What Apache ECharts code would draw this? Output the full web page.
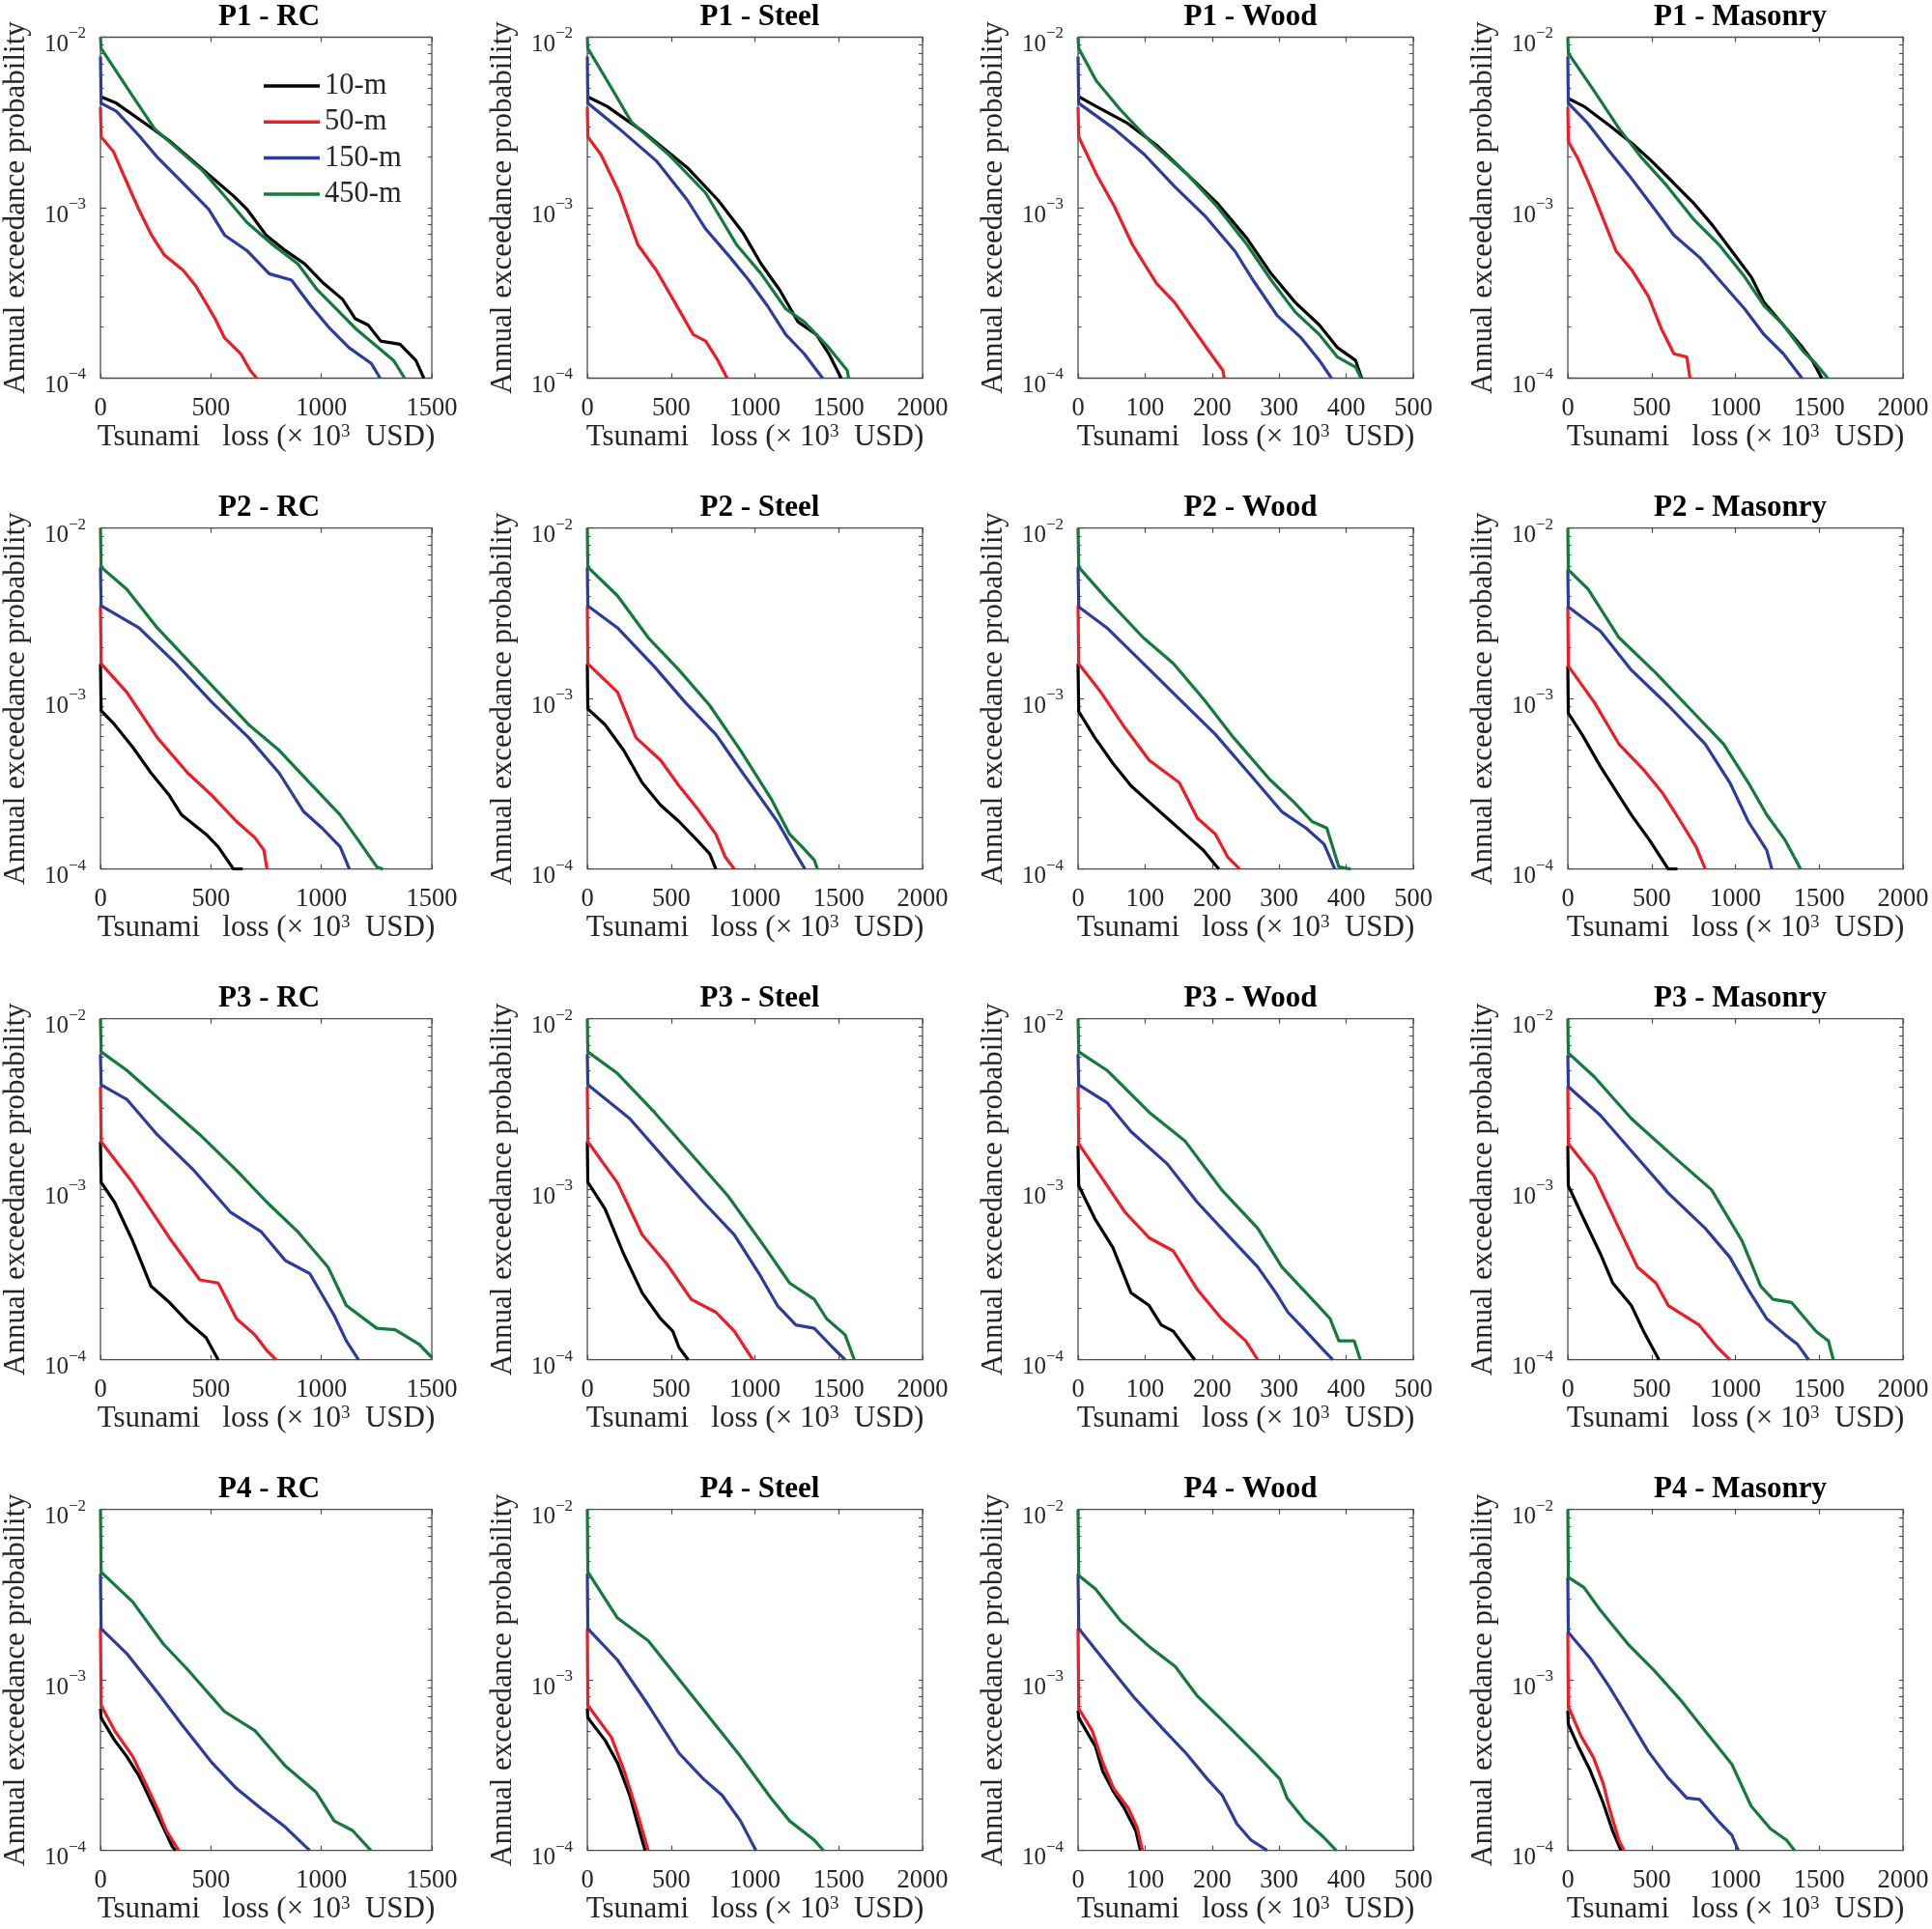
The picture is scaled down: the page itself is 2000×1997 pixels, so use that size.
<!DOCTYPE html>
<html><head><meta charset="utf-8">
<script src="https://cdn.jsdelivr.net/npm/echarts@6/dist/echarts.min.js"></script>
<style>html,body{margin:0;padding:0;background:#fff}#c{width:2000px;height:1997px}</style>
</head><body><div id="c"></div>
<script>
const seriesNames = ['10-m', '50-m', '150-m', '450-m'];
const seriesColors = ['#000000', '#ee1c24', '#2b3c9c', '#137a3b'];
const rowLabels = ['P1', 'P2', 'P3', 'P4'];
const colLabels = ['RC', 'Steel', 'Wood', 'Masonry'];
const xMaxByCol = [1500, 2000, 500, 2000];
const xStepByCol = [500, 500, 100, 500];
const yMin = 1e-4, yMax = 1e-2;

// ---- P1 ----
const P1_RC_10 = [[0,4.48e-3],[72,4.1e-3],[216,3.03e-3],[317,2.44e-3],[462,1.68e-3],[606,1.16e-3],[663,9.8e-4],[750,6.9e-4],[837,5.6e-4],[923,4.7e-4],[1010,3.6e-4],[1096,2.9e-4],[1154,2.23e-4],[1212,2.05e-4],[1269,1.65e-4],[1356,1.58e-4],[1428,1.27e-4],[1464,1e-4]];
const P1_RC_50 = [[0,3.9e-3],[3,2.6e-3],[58,2.14e-3],[115,1.45e-3],[173,9.8e-4],[231,6.9e-4],[288,5.3e-4],[375,4.28e-4],[433,3.45e-4],[476,2.78e-4],[519,2.23e-4],[562,1.72e-4],[635,1.39e-4],[678,1.11e-4],[707,1e-4]];
const P1_RC_150 = [[0,7.7e-3],[3,4.1e-3],[72,3.68e-3],[173,2.66e-3],[260,1.96e-3],[375,1.39e-3],[490,9.8e-4],[562,6.9e-4],[663,5.6e-4],[764,4.1e-4],[865,3.76e-4],[952,2.66e-4],[1038,1.96e-4],[1125,1.51e-4],[1226,1.22e-4],[1266,1e-4]];
const P1_RC_450 = [[0,1e-2],[3,8.6e-3],[144,4.55e-3],[245,2.9e-3],[346,2.23e-3],[462,1.65e-3],[577,1.11e-3],[663,8.2e-4],[779,6.07e-4],[894,4.68e-4],[981,3.3e-4],[1067,2.55e-4],[1154,1.96e-4],[1240,1.58e-4],[1327,1.27e-4],[1377,1e-4]];
const P1_ST_10 = [[0,4.48e-3],[118,3.93e-3],[338,2.77e-3],[596,1.72e-3],[779,1.11e-3],[926,7.2e-4],[1037,4.68e-4],[1147,3.3e-4],[1257,2.14e-4],[1367,1.8e-4],[1441,1.39e-4],[1515,1e-4]];
const P1_ST_50 = [[0,3.9e-3],[3,2.6e-3],[81,2.05e-3],[191,1.22e-3],[301,6.07e-4],[412,4.28e-4],[522,2.78e-4],[632,1.8e-4],[706,1.65e-4],[779,1.27e-4],[834,1e-4]];
const P1_ST_150 = [[0,7.7e-3],[3,4.1e-3],[191,2.9e-3],[412,1.88e-3],[596,1.11e-3],[706,7.5e-4],[853,5.1e-4],[963,3.76e-4],[1074,2.66e-4],[1184,1.8e-4],[1294,1.39e-4],[1404,1e-4]];
const P1_ST_450 = [[0,1e-2],[3,8.6e-3],[118,5.56e-3],[265,3.16e-3],[485,2.05e-3],[706,1.22e-3],[890,6.07e-4],[1037,4.1e-4],[1184,2.55e-4],[1294,2.14e-4],[1441,1.51e-4],[1551,1.11e-4],[1559,1e-4]];
const P1_WD_10 = [[0,4.5e-3],[27,3.93e-3],[72,3.16e-3],[117,2.33e-3],[162,1.58e-3],[207,1.07e-3],[252,6.6e-4],[288,4.1e-4],[324,2.78e-4],[360,2.05e-4],[387,1.51e-4],[414,1.27e-4],[423,1e-4]];
const P1_WD_50 = [[0,3.9e-3],[1,2.6e-3],[27,1.58e-3],[54,1.02e-3],[81,6.07e-4],[117,3.6e-4],[144,2.78e-4],[171,1.96e-4],[198,1.39e-4],[216,1.11e-4],[218,1e-4]];
const P1_WD_150 = [[0,7.7e-3],[1,4.1e-3],[54,2.9e-3],[99,2.05e-3],[144,1.33e-3],[189,8.97e-4],[234,5.56e-4],[261,3.76e-4],[297,2.33e-4],[333,1.72e-4],[360,1.27e-4],[378,1e-4]];
const P1_WD_450 = [[0,1e-2],[1,8.6e-3],[27,5.56e-3],[63,3.76e-3],[108,2.44e-3],[162,1.58e-3],[207,1.02e-3],[252,6.07e-4],[288,3.76e-4],[324,2.44e-4],[360,1.8e-4],[387,1.33e-4],[414,1.16e-4],[422,1e-4]];
const P1_MA_10 = [[0,4.38e-3],[96,3.93e-3],[249,3.03e-3],[384,2.38e-3],[499,1.88e-3],[633,1.39e-3],[748,1.07e-3],[864,7.87e-4],[979,5.56e-4],[1094,3.93e-4],[1171,2.78e-4],[1286,2.05e-4],[1401,1.51e-4],[1458,1.27e-4],[1516,1e-4]];
const P1_MA_50 = [[0,3.9e-3],[3,2.44e-3],[58,1.96e-3],[134,1.33e-3],[211,8.6e-4],[288,5.56e-4],[384,4.28e-4],[480,3.03e-4],[557,1.96e-4],[633,1.39e-4],[710,1.33e-4],[729,1e-4]];
const P1_MA_150 = [[0,7.7e-3],[3,4.1e-3],[115,3.16e-3],[249,2.14e-3],[365,1.55e-3],[518,9.8e-4],[633,6.9e-4],[787,5.1e-4],[921,3.6e-4],[1055,2.55e-4],[1171,1.8e-4],[1286,1.39e-4],[1397,1e-4]];
const P1_MA_450 = [[0,1e-2],[3,8.05e-3],[154,4.89e-3],[307,2.9e-3],[441,1.96e-3],[595,1.33e-3],[748,8.6e-4],[902,6.07e-4],[1055,3.93e-4],[1171,2.66e-4],[1286,2.05e-4],[1401,1.45e-4],[1478,1.22e-4],[1551,1e-4]];
// ---- P2 ----
const P2_RC_10 = [[0,1.6e-3],[3,8.5e-4],[64,7.03e-4],[146,5.19e-4],[229,3.66e-4],[312,2.7e-4],[367,2.08e-4],[478,1.6e-4],[533,1.35e-4],[602,1e-4],[644,1e-4]];
const P2_RC_50 = [[0,3.5e-3],[3,1.6e-3],[119,1.09e-3],[257,5.9e-4],[395,3.66e-4],[505,2.7e-4],[616,1.9e-4],[699,1.53e-4],[740,1.29e-4],[754,1e-4]];
const P2_RC_150 = [[0,5.9e-3],[3,3.5e-3],[174,2.6e-3],[340,1.61e-3],[505,9.5e-4],[671,5.9e-4],[809,3.66e-4],[920,2.17e-4],[1003,1.74e-4],[1085,1.35e-4],[1127,1e-4]];
const P2_RC_450 = [[0,1e-2],[3,5.9e-3],[119,4.38e-3],[257,2.6e-3],[395,1.68e-3],[533,1.09e-3],[671,7.03e-4],[809,4.97e-4],[947,3.21e-4],[1085,2.08e-4],[1168,1.47e-4],[1251,1.03e-4],[1279,1e-4]];
const P2_ST_10 = [[0,1.6e-3],[3,8.7e-4],[106,7.03e-4],[217,4.97e-4],[327,3.21e-4],[437,2.37e-4],[547,1.9e-4],[657,1.47e-4],[730,1.23e-4],[767,1e-4]];
const P2_ST_50 = [[0,3.5e-3],[3,1.6e-3],[180,1.09e-3],[290,5.9e-4],[437,4.35e-4],[547,3.08e-4],[657,2.26e-4],[767,1.6e-4],[822,1.18e-4],[877,1e-4]];
const P2_ST_150 = [[0,5.9e-3],[3,3.5e-3],[180,2.6e-3],[400,1.54e-3],[584,9.5e-4],[767,6.16e-4],[914,3.82e-4],[1024,2.7e-4],[1134,1.9e-4],[1244,1.23e-4],[1299,1e-4]];
const P2_ST_450 = [[0,1e-2],[3,5.9e-3],[180,4.01e-3],[363,2.28e-3],[547,1.47e-3],[730,9.12e-4],[914,4.97e-4],[1097,2.58e-4],[1207,1.6e-4],[1281,1.35e-4],[1354,1.13e-4],[1373,1e-4]];
const P2_WD_10 = [[0,1.6e-3],[1,8.4e-4],[25,5.9e-4],[52,4.17e-4],[79,3.08e-4],[106,2.47e-4],[133,1.99e-4],[160,1.6e-4],[187,1.29e-4],[210,1e-4]];
const P2_WD_50 = [[0,3.5e-3],[1,1.6e-3],[34,1.09e-3],[70,6.73e-4],[106,4.35e-4],[151,3.21e-4],[178,1.99e-4],[205,1.6e-4],[223,1.18e-4],[241,1e-4]];
const P2_WD_150 = [[0,5.9e-3],[1,3.45e-3],[43,2.6e-3],[97,1.61e-3],[151,9.95e-4],[205,6.16e-4],[259,3.5e-4],[304,2.17e-4],[340,1.74e-4],[367,1.4e-4],[383,1e-4]];
const P2_WD_450 = [[0,1e-2],[1,5.9e-3],[43,3.84e-3],[97,2.28e-3],[142,1.61e-3],[187,9.95e-4],[232,5.9e-4],[286,3.35e-4],[322,2.47e-4],[349,1.9e-4],[371,1.74e-4],[389,1.03e-4],[407,1e-4]];
const P2_MA_10 = [[0,1.55e-3],[3,8.2e-4],[85,6.16e-4],[195,3.99e-4],[305,2.7e-4],[379,2.08e-4],[489,1.47e-4],[599,1e-4],[654,1e-4]];
const P2_MA_50 = [[0,3.45e-3],[3,1.55e-3],[158,9.5e-4],[305,5.41e-4],[452,3.82e-4],[562,2.82e-4],[673,1.9e-4],[765,1.35e-4],[820,1e-4]];
const P2_MA_150 = [[0,5.7e-3],[3,3.45e-3],[195,2.48e-3],[379,1.47e-3],[599,9.12e-4],[820,5.41e-4],[967,3.21e-4],[1077,1.9e-4],[1187,1.29e-4],[1217,1e-4]];
const P2_MA_450 = [[0,1e-2],[3,5.7e-3],[121,4.38e-3],[305,2.28e-3],[526,1.41e-3],[709,9.12e-4],[930,5.41e-4],[1077,3.21e-4],[1187,2.08e-4],[1298,1.47e-4],[1389,1e-4]];
// ---- P3 ----
const P3_RC_10 = [[0,1.9e-3],[3,1.1e-3],[64,8.38e-4],[146,4.97e-4],[229,2.7e-4],[312,2.17e-4],[395,1.67e-4],[478,1.35e-4],[533,1e-4]];
const P3_RC_50 = [[0,4e-3],[3,1.9e-3],[146,1.09e-3],[312,5.19e-4],[450,2.94e-4],[533,2.82e-4],[616,1.74e-4],[699,1.4e-4],[754,1.13e-4],[795,1e-4]];
const P3_RC_150 = [[0,6.2e-3],[3,4.1e-3],[119,3.37e-3],[257,2.09e-3],[423,1.29e-3],[588,7.35e-4],[726,5.66e-4],[837,3.82e-4],[947,3.21e-4],[1058,1.82e-4],[1113,1.29e-4],[1168,1e-4]];
const P3_RC_450 = [[0,1e-2],[3,6.4e-3],[119,4.99e-3],[284,3.23e-3],[450,2.09e-3],[616,1.29e-3],[754,8.38e-4],[892,5.66e-4],[1030,3.5e-4],[1113,2.08e-4],[1251,1.53e-4],[1334,1.5e-4],[1444,1.23e-4],[1500,1.03e-4]];
const P3_ST_10 = [[0,1.9e-3],[3,1.1e-3],[106,7.67e-4],[217,4.17e-4],[327,2.47e-4],[437,1.74e-4],[510,1.47e-4],[547,1.18e-4],[602,1e-4]];
const P3_ST_50 = [[0,4e-3],[3,1.9e-3],[180,1.09e-3],[327,5.41e-4],[473,3.66e-4],[620,2.26e-4],[767,1.9e-4],[877,1.47e-4],[987,1e-4]];
const P3_ST_150 = [[0,6.2e-3],[3,4.1e-3],[253,2.6e-3],[473,1.47e-3],[694,8.38e-4],[877,5.41e-4],[1024,3.21e-4],[1134,2.08e-4],[1244,1.6e-4],[1354,1.53e-4],[1464,1.18e-4],[1538,1e-4]];
const P3_ST_450 = [[0,1e-2],[3,6.4e-3],[180,4.78e-3],[400,2.83e-3],[620,1.61e-3],[840,9.12e-4],[1061,4.55e-4],[1207,2.82e-4],[1354,2.26e-4],[1428,1.74e-4],[1538,1.4e-4],[1593,1e-4]];
const P3_WD_10 = [[0,1.8e-3],[1,1.05e-3],[25,6.73e-4],[52,4.55e-4],[79,2.47e-4],[106,2.08e-4],[124,1.6e-4],[142,1.47e-4],[160,1.18e-4],[174,1e-4]];
const P3_WD_50 = [[0,4e-3],[1,1.85e-3],[34,1.19e-3],[70,7.35e-4],[106,5.19e-4],[142,4.35e-4],[178,2.58e-4],[214,1.74e-4],[250,1.29e-4],[268,1e-4]];
const P3_WD_150 = [[0,6.2e-3],[1,4.1e-3],[43,3.23e-3],[79,2.18e-3],[133,1.41e-3],[178,8.38e-4],[223,5.41e-4],[268,3.5e-4],[295,2.47e-4],[313,1.9e-4],[340,1.47e-4],[367,1.13e-4],[380,1e-4]];
const P3_WD_450 = [[0,1e-2],[1,6.4e-3],[43,4.99e-3],[106,2.83e-3],[160,1.91e-3],[214,9.95e-4],[268,5.9e-4],[304,3.5e-4],[331,2.7e-4],[358,2.08e-4],[376,1.74e-4],[389,1.29e-4],[412,1.29e-4],[421,1e-4]];
const P3_MA_10 = [[0,1.8e-3],[3,1.05e-3],[85,7.03e-4],[195,4.17e-4],[268,2.82e-4],[379,2.08e-4],[452,1.47e-4],[544,1e-4]];
const P3_MA_50 = [[0,4e-3],[3,1.85e-3],[158,1.19e-3],[305,5.9e-4],[415,3.5e-4],[526,2.82e-4],[599,2.08e-4],[783,1.6e-4],[893,1.18e-4],[967,1e-4]];
const P3_MA_150 = [[0,6.1e-3],[3,4e-3],[195,2.71e-3],[379,1.68e-3],[599,9.5e-4],[820,5.9e-4],[967,3.99e-4],[1077,2.58e-4],[1187,1.74e-4],[1298,1.4e-4],[1371,1.23e-4],[1437,1e-4]];
const P3_MA_450 = [[0,1e-2],[3,6.3e-3],[158,4.57e-3],[379,2.6e-3],[636,1.54e-3],[857,9.95e-4],[1040,4.97e-4],[1151,2.7e-4],[1224,2.26e-4],[1334,2.17e-4],[1481,1.47e-4],[1555,1.29e-4],[1584,1e-4]];
// ---- P4 ----
const P4_RC_10 = [[0,6.8e-4],[3,6e-4],[64,4.43e-4],[119,3.56e-4],[174,2.74e-4],[229,1.94e-4],[284,1.37e-4],[326,1.05e-4],[340,1e-4]];
const P4_RC_50 = [[0,2e-3],[3,7.1e-4],[64,5.05e-4],[146,3.56e-4],[202,2.51e-4],[257,1.77e-4],[298,1.31e-4],[354,1e-4]];
const P4_RC_150 = [[0,4.2e-3],[3,2e-3],[119,1.43e-3],[257,8.5e-4],[367,5.5e-4],[505,3.27e-4],[616,2.31e-4],[726,1.77e-4],[837,1.37e-4],[947,1e-4]];
const P4_RC_450 = [[0,1e-2],[3,4.3e-3],[146,2.87e-3],[284,1.63e-3],[395,1.15e-3],[561,6.54e-4],[699,5.05e-4],[837,3.13e-4],[975,2.21e-4],[1058,1.49e-4],[1141,1.31e-4],[1224,1e-4]];
const P4_ST_10 = [[0,6.8e-4],[3,6e-4],[106,4.43e-4],[180,3.27e-4],[253,2.11e-4],[327,1.15e-4],[345,1e-4]];
const P4_ST_50 = [[0,2e-3],[3,7.1e-4],[143,4.62e-4],[217,2.99e-4],[290,1.77e-4],[363,1e-4]];
const P4_ST_150 = [[0,4.2e-3],[3,2e-3],[180,1.31e-3],[363,7.14e-4],[547,3.72e-4],[694,2.62e-4],[804,2.11e-4],[914,1.49e-4],[1006,1e-4]];
const P4_ST_450 = [[0,1e-2],[3,4.3e-3],[180,2.31e-3],[363,1.7e-3],[547,1.01e-3],[730,6e-4],[914,3.56e-4],[1097,2.02e-4],[1207,1.49e-4],[1354,1.15e-4],[1409,1e-4]];
const P4_WD_10 = [[0,6.6e-4],[1,6e-4],[26,4.06e-4],[37,2.9e-4],[53,2.21e-4],[69,1.77e-4],[86,1.31e-4],[93,1e-4]];
const P4_WD_50 = [[0,2e-3],[1,6.8e-4],[21,5.05e-4],[37,3.27e-4],[53,2.31e-4],[75,1.77e-4],[88,1.37e-4],[96,1e-4]];
const P4_WD_150 = [[0,4.2e-3],[1,2e-3],[42,1.26e-3],[85,7.78e-4],[129,5.05e-4],[161,3.72e-4],[193,2.62e-4],[215,2.11e-4],[237,1.43e-4],[258,1.15e-4],[282,1e-4]];
const P4_WD_450 = [[0,1e-2],[1,4.1e-3],[26,3.42e-3],[64,2.21e-3],[107,1.56e-3],[145,1.2e-3],[177,8.13e-4],[226,5.26e-4],[269,3.56e-4],[301,2.62e-4],[312,2.02e-4],[339,1.49e-4],[366,1.2e-4],[385,1e-4]];
const P4_MA_10 = [[0,6.6e-4],[3,5.5e-4],[58,4.16e-4],[134,2.94e-4],[211,1.9e-4],[269,1.29e-4],[317,1e-4]];
const P4_MA_50 = [[0,1.9e-3],[3,7e-4],[77,4.73e-4],[154,3.49e-4],[211,2.47e-4],[249,1.75e-4],[307,1.13e-4],[336,1e-4]];
const P4_MA_150 = [[0,4e-3],[3,1.9e-3],[134,1.34e-3],[249,9.08e-4],[365,5.89e-4],[480,3.81e-4],[595,2.69e-4],[710,2.03e-4],[787,1.99e-4],[902,1.47e-4],[979,1.23e-4],[1017,1e-4]];
const P4_MA_450 = [[0,1e-2],[3,4e-3],[96,3.49e-3],[192,2.58e-3],[365,1.6e-3],[518,1.13e-3],[672,7.64e-4],[825,4.94e-4],[979,3.2e-4],[1094,1.82e-4],[1209,1.34e-4],[1305,1.15e-4],[1353,1e-4]];

const panelSeries = [
  [[P1_RC_10,P1_RC_50,P1_RC_150,P1_RC_450],[P1_ST_10,P1_ST_50,P1_ST_150,P1_ST_450],[P1_WD_10,P1_WD_50,P1_WD_150,P1_WD_450],[P1_MA_10,P1_MA_50,P1_MA_150,P1_MA_450]],
  [[P2_RC_10,P2_RC_50,P2_RC_150,P2_RC_450],[P2_ST_10,P2_ST_50,P2_ST_150,P2_ST_450],[P2_WD_10,P2_WD_50,P2_WD_150,P2_WD_450],[P2_MA_10,P2_MA_50,P2_MA_150,P2_MA_450]],
  [[P3_RC_10,P3_RC_50,P3_RC_150,P3_RC_450],[P3_ST_10,P3_ST_50,P3_ST_150,P3_ST_450],[P3_WD_10,P3_WD_50,P3_WD_150,P3_WD_450],[P3_MA_10,P3_MA_50,P3_MA_150,P3_MA_450]],
  [[P4_RC_10,P4_RC_50,P4_RC_150,P4_RC_450],[P4_ST_10,P4_ST_50,P4_ST_150,P4_ST_450],[P4_WD_10,P4_WD_50,P4_WD_150,P4_WD_450],[P4_MA_10,P4_MA_50,P4_MA_150,P4_MA_450]]
];

// ---- layout / style ----
const FONT = "'Liberation Serif','Times New Roman',serif";
const gridLefts = [100, 608, 1116, 1623];
const gridTops = [38.5, 546.7, 1054.7, 1562.7];
const GW = 347, GH = 353;
const FRAME = '#4d4d4d', TXT = '#262626';

const logMinor = [], logAll = [];
for (let e = -4; e <= -2; e++) {
  for (let k = 1; k <= 9; k++) {
    if (e === -2 && k > 1) break;
    const v = e + Math.log10(k);
    logAll.push(v);
    if (k > 1) logMinor.push(v);
  }
}

const option = {
  animation: false, backgroundColor: '#ffffff',
  title: [], grid: [], xAxis: [], yAxis: [], series: [],
  legend: {
    show: true, orient: 'vertical', left: 268, top: 68.5,
    itemWidth: 58, itemHeight: 3.5, icon: 'rect', itemGap: 6.3,
    selectedMode: false, data: seriesNames,
    textStyle: { fontFamily: FONT, fontSize: 30.5, color: TXT, lineHeight: 30 }
  }
};

for (let r = 0; r < 4; r++) {
  for (let c = 0; c < 4; c++) {
    const i = r * 4 + c;
    const left = gridLefts[c], top = gridTops[r];
    const xmax = xMaxByCol[c], step = xStepByCol[c];
    option.grid.push({ left: left, top: top, width: GW, height: GH, show: true,
      borderColor: FRAME, borderWidth: 1.3, backgroundColor: 'transparent' });
    option.title.push({ text: rowLabels[r] + ' - ' + colLabels[c], left: left + GW / 2, top: top - 41,
      textAlign: 'center', textStyle: { fontFamily: FONT, fontSize: 31, fontWeight: 'bold', color: '#000' } });
    option.xAxis.push({
      gridIndex: i, type: 'value', position: 'bottom', min: 0, max: xmax, interval: step,
      axisLine: { show: false }, splitLine: { show: false },
      axisTick: { inside: true, length: 5, lineStyle: { color: FRAME, width: 1.2 } },
      axisLabel: { margin: 18, fontFamily: FONT, fontSize: 26.5, color: TXT,
        formatter: function (v) { return String(v); } },
      name: '{nm|Tsunami   loss (× 10}{sp|3}{nm|  USD)}', nameLocation: 'middle', nameGap: 46,
      nameTextStyle: { fontFamily: FONT, fontSize: 31, color: TXT,
        rich: { nm: { fontFamily: FONT, fontSize: 31, color: TXT },
                sp: { fontFamily: FONT, fontSize: 19, color: TXT, verticalAlign: 'top' } } }
    });
    option.xAxis.push({
      gridIndex: i, type: 'value', position: 'top', min: 0, max: xmax, interval: step,
      axisLine: { show: false }, splitLine: { show: false }, axisLabel: { show: false },
      axisTick: { inside: true, length: 5, lineStyle: { color: FRAME, width: 1.2 } }
    });
    option.yAxis.push({
      gridIndex: i, type: 'log', logBase: 10, min: yMin, max: yMax, position: 'left',
      axisLine: { show: false }, splitLine: { show: false }, minorTick: { show: false },
      axisTick: { inside: true, length: 6, lineStyle: { color: FRAME, width: 1.2 } },
      axisLabel: {
        margin: 15, padding: [16, 0, 0, 0], fontFamily: FONT, fontSize: 25, color: TXT,
        formatter: function (v) {
          const e = Math.round(Math.log10(v));
          return '{base|10}{pow|' + (e < 0 ? '\u2212' + (-e) : e) + '}';
        },
        rich: { base: { fontFamily: FONT, fontSize: 25, color: TXT, lineHeight: 40 },
                pow: { fontFamily: FONT, fontSize: 17, color: TXT, lineHeight: 17, verticalAlign: 'top' } }
      },
      name: 'Annual exceedance probability', nameLocation: 'middle', nameGap: 72,
      nameTextStyle: { fontFamily: FONT, fontSize: 31, color: TXT }
    });
    option.yAxis.push({
      gridIndex: i, type: 'value', min: -4, max: -2, position: 'left',
      axisLine: { show: false }, splitLine: { show: false }, axisLabel: { show: false },
      axisTick: { inside: true, length: 3.5, customValues: logMinor, lineStyle: { color: FRAME, width: 1.1 } }
    });
    option.yAxis.push({
      gridIndex: i, type: 'value', min: -4, max: -2, position: 'right',
      axisLine: { show: false }, splitLine: { show: false }, axisLabel: { show: false },
      axisTick: { inside: true, length: 4, customValues: logAll, lineStyle: { color: FRAME, width: 1.1 } }
    });
    const sets = panelSeries[r][c];
    for (let s = 0; s < 4; s++) {
      option.series.push({
        type: 'line', name: seriesNames[s], xAxisIndex: 2 * i, yAxisIndex: 3 * i,
        data: sets[s], showSymbol: false, symbol: 'none', clip: true,
        color: seriesColors[s], itemStyle: { color: seriesColors[s] },
        lineStyle: { width: 3.2, color: seriesColors[s] }
      });
    }
  }
}

const chart = echarts.init(document.getElementById('c'), null, { renderer: 'canvas' });
chart.setOption(option);
</script>
</body></html>
